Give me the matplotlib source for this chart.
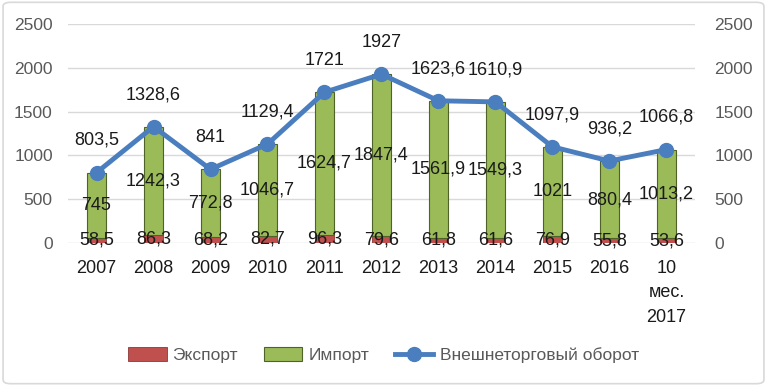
import numpy as np
import matplotlib.pyplot as plt
from matplotlib.patches import FancyBboxPatch

plt.rcParams['font.family'] = ['Liberation Sans', 'DejaVu Sans']

years = ['2007', '2008', '2009', '2010', '2011', '2012', '2013', '2014',
         '2015', '2016', '10\nмес.\n2017']
export = [58.5, 86.3, 68.2, 82.7, 96.3, 79.6, 61.8, 61.6, 76.9, 55.8, 53.6]
imports = [745, 1242.3, 772.8, 1046.7, 1624.7, 1847.4, 1561.9, 1549.3, 1021, 880.4, 1013.2]
turnover = [803.5, 1328.6, 841, 1129.4, 1721, 1927, 1623.6, 1610.9, 1097.9, 936.2, 1066.8]


def fmt(v):
    s = f"{v:g}"
    return s.replace('.', ',')


fig = plt.figure(figsize=(7.67, 3.86), dpi=100)
ax = fig.add_axes([0.0887, 0.3705, 0.8173, 0.5673])
x = np.arange(len(years))
w = 0.32

ax.bar(x, export, w, color='#C0504D', edgecolor='#8C3836', linewidth=0.6,
       label='Экспорт', zorder=2)
ax.bar(x, imports, w, bottom=export, color='#9BBB59', edgecolor='#4F6228',
       linewidth=0.8, label='Импорт', zorder=2)

for i in range(len(years)):
    ax.text(x[i], export[i] / 2, fmt(export[i]), ha='center', va='center',
            fontsize=13, color='#1a1a1a', zorder=5)
    ax.text(x[i], export[i] + imports[i] / 2, fmt(imports[i]), ha='center',
            va='center', fontsize=13, color='#1a1a1a', zorder=5)

ax.set_xlim(-0.5, len(years) - 0.5)
ax.set_ylim(0, 2500)
ax.set_yticks(range(0, 2501, 500))
ax.grid(axis='y', color='#D9D9D9', linewidth=1, zorder=0)
ax.set_axisbelow(True)
for s in ax.spines.values():
    s.set_visible(False)
ax.set_xticks(x)
ax.set_xticklabels(years, fontsize=13, color='#1a1a1a', linespacing=1.6)
ax.tick_params(axis='x', length=0, pad=12)
ax.tick_params(axis='y', length=0, pad=11, labelsize=12.5, labelcolor='#595959')

ax2 = ax.twinx()
ax2.plot(x, turnover, color='#4A7EBF', linewidth=3.5, marker='o',
         markersize=10, label='Внешнеторговый оборот', zorder=4)
for i in range(len(years)):
    ax2.annotate(fmt(turnover[i]), (x[i], turnover[i]), xytext=(0, 17),
                 textcoords='offset points', ha='center', va='bottom',
                 fontsize=13, color='#1a1a1a')
ax2.set_ylim(0, 2500)
ax2.set_yticks(range(0, 2501, 500))
for s in ax2.spines.values():
    s.set_visible(False)
ax2.tick_params(axis='y', length=0, pad=14, labelsize=12.5, labelcolor='#595959')

h1, l1 = ax.get_legend_handles_labels()
h2, l2 = ax2.get_legend_handles_labels()
leg = fig.legend(h1 + h2, l1 + l2, loc='center', bbox_to_anchor=(0.5, 0.08),
                 ncol=3, frameon=False, fontsize=12.5, handlelength=2.2,
                 handleheight=0.9, columnspacing=1.5, handletextpad=0.35)
for t in leg.get_texts():
    t.set_color('#595959')

fig.patches.append(FancyBboxPatch((0.004, 0.006), 0.992, 0.988,
                                  boxstyle='round,pad=0,rounding_size=0.01',
                                  transform=fig.transFigure, fill=False,
                                  edgecolor='#D9D9D9', linewidth=1.2))

fig.savefig('out.png', dpi=100)
